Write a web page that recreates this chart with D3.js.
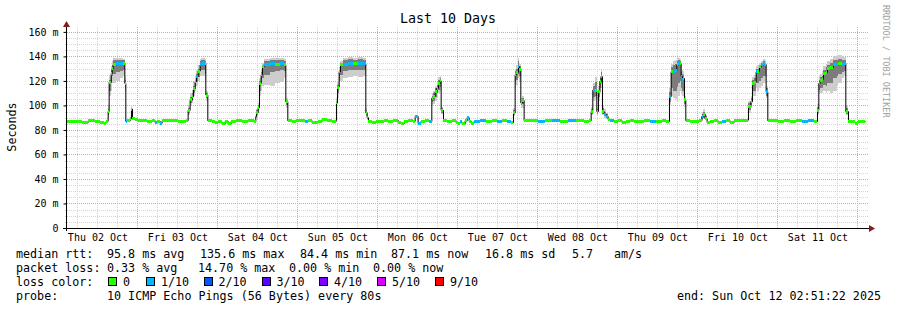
<!DOCTYPE html>
<html>
<head>
<meta charset="utf-8">
<script src="https://cdn.jsdelivr.net/npm/d3@7"></script>
<style>
  body { margin: 0; background: #fff; }
  svg text { font-family: "DejaVu Sans Mono", monospace; white-space: pre; fill: #000; }
</style>
</head>
<body>
<svg id="chart" width="897" height="310"></svg>
<script>
// ---- data (hours since Thu 02 Oct 00:00) ----
const startHour = 2.856;   // Oct 02 02:51:22
const endHour = 242.856;   // Oct 12 02:51:22

const hours = [2.9,5.3,7.4,9.2,11.3,12.8,14.0,14.6,15.2,15.5,16.1,16.4,16.7,17.6,18.8,19.7,20.2,20.5,21.0,21.8,22.2,22.5,23.3,24.2,25.4,26.9,28.4,29.3,29.9,30.8,31.4,33.8,36.2,38.6,
  39.2,39.8,40.4,40.8,41.3,41.7,42.2,42.8,43.1,44.3,44.5,45.1,46.4,47.3,48.2,49.4,50.3,51.2,52.1,53.6,55.4,57.2,59.0,
  59.5,59.7,60.2,60.6,61.1,61.5,62.0,63.8,65.3,66.8,68.0,68.5,69.1,70.4,71.6,72.8,74.3,75.2,76.4,78.2,79.4,80.9,82.4,
  83.6,83.7,84.0,84.5,84.9,85.7,87.2,88.7,90.2,91.7,92.5,92.9,93.3,94.4,95.6,96.8,98.0,99.2,100.7,102.2,103.1,104.0,105.2,106.7,107.3,108.2,109.1,110.3,111.5,
  112.3,112.7,113.3,113.8,114.3,114.8,115.1,115.8,116.9,118.4,119.6,120.2,120.8,121.4,122.3,122.9,123.5,124.1,125.0,126.8,128.6,130.4,131.9,133.4,134.9,136.1,
  136.8,137.3,137.7,138.3,138.6,139.0,139.5,140.0,141.7,144.1,146.2,148.3,150.8,153.1,155.6,158.0,159.5,
  160.1,160.6,161.3,161.8,162.3,162.7,163.1,163.5,164.0,164.6,165.2,165.8,167.0,168.2,169.4,170.6,171.8,173.0,174.2,176.0,177.8,179.6,181.4,182.6,
  183.6,184.1,184.8,185.3,185.8,186.3,186.8,187.1,187.5,187.8,188.1,188.5,189.8,191.3,192.5,193.3,193.7,194.3,194.9,195.8,197.0,198.2,199.4,200.6,201.8,203.0,204.5,206.0,206.9,
  207.3,208.0,208.5,209.1,209.6,210.0,210.6,211.2,211.8,212.3,212.6,213.1,214.4,216.2,218.0,219.8,221.6,223.4,225.2,227.0,
  228.0,228.4,228.8,229.3,229.8,230.6,231.0,231.8,232.8,233.8,234.3,235.3,236.0,236.5,237.3,238.4,239.3,240.2,241.4,242.3];

const medianMs = [86.5,87,86,87.5,87,86,85.5,87,95,119,126,130,133,134.5,134,134.5,118,87,87.5,89,97,89,88.5,87.5,88,87,87.5,86,87,85.5,87.5,87.5,87,87.5,
  96,104.5,107,113.5,119.5,123.5,128,133,134.5,134.5,108.5,87.5,87,86,86.5,85,87,85,87,87.5,87,87.5,87,
  91,94,98,118,125,131.5,133.5,134.5,133.5,134.5,133,103,87.5,87,88,87.5,86.5,87.5,86,87,88.5,87.5,87,
  88,102,115,127.5,133,133.5,134.5,134,134.5,134,94,90,87,86,86.5,87,87.5,87,88,86,85,86.5,87.5,87,91,85.5,87,87.5,87,
  106,107,111,114,118,120,96,87.5,87,87.5,86,85.5,86.5,85,87.5,90,87,85.5,87,87.5,87,87.5,86.5,87.5,87,86,
  94,125,127,131.5,129.5,102,104,87.5,87.5,87,87.5,87.5,87,87.5,87.5,87,87.5,
  95,112.5,112,95,111,119.5,123.5,95,93,91,88.5,87.5,87,87.5,86,87,87.5,86.5,87,87.5,87,86.5,87.5,87,
  107,127.5,127.5,128.5,133,134.5,134,123.5,121,122,104.5,87.5,87,86.5,87.5,91,93,89,86,87,87.5,86,87,87.5,86,87.5,88,87.5,88,
  99,103,118,119,127.5,127.5,131.5,133,134.5,133.5,111,87.5,87.5,87,87.5,87,87.5,86.5,87.5,87,
  96,118,120,121,126,127,130,131,133,133,134.5,133,134.5,95,87,86.5,85.5,87,86.5,87];

// packets lost out of 10 for each step (index into lossColors)
const lossIdx = [0,0,0,0,0,0,0,0,0,0,0,0,0,1,1,0,0,1,0,0,0,0,0,0,0,0,0,1,0,1,0,0,0,0,
  0,0,0,0,0,1,0,1,1,0,0,0,0,0,0,0,0,0,0,0,0,0,0,
  0,0,0,0,0,0,1,1,0,1,0,0,0,0,0,0,1,0,0,0,0,0,0,
  0,0,0,0,0,1,1,0,1,1,0,1,0,0,0,0,0,0,0,0,0,0,0,0,1,1,0,0,1,
  0,0,0,0,0,0,0,0,0,0,0,0,1,0,0,1,0,0,1,1,0,0,1,0,1,0,
  0,0,0,1,0,0,0,0,0,1,0,1,0,1,0,0,0,
  0,1,0,0,0,0,0,0,1,1,0,1,0,0,0,0,0,0,0,0,1,0,0,0,
  1,0,1,1,0,1,0,1,1,0,0,0,0,0,0,1,0,0,0,0,0,0,1,0,0,0,0,0,0,
  0,0,0,0,1,0,0,1,1,0,1,0,0,0,0,0,0,1,1,0,
  0,1,0,0,0,0,0,0,1,1,0,1,1,0,0,0,0,0,0,0];

// smoke (spread of the 10 pings), null marks the end of a burst
const smokeHours = [15.2,15.5,16.1,16.4,16.7,17.6,18.8,19.7,20.2,20.5, 22.2,22.5,
  39.2,39.8,40.4,40.8,41.3,41.7,42.2,42.8,43.1,44.3,44.5,45.1,
  59.5,59.7,60.2,60.6,61.1,61.5,62.0,63.8,65.3,66.8,68.0,68.5,69.1,
  83.6,83.7,84.0,84.5,84.9,85.7,87.2,88.7,90.2,91.7,92.5,92.9,93.3,
  112.3,112.7,113.3,113.8,114.3,114.8,115.1,115.8,
  136.8,137.3,137.7,138.3,138.6,139.0,139.5,140.0,
  160.1,160.6,161.3,161.8,162.3,162.7,163.1,163.5,164.0,164.6,165.2,
  183.6,184.1,184.8,185.3,185.8,186.3,186.8,187.1,187.5,187.8,188.1,188.5,
  193.3,193.7,194.3,194.9,
  207.3,208.0,208.5,209.1,209.6,210.0,210.6,211.2,211.8,212.3,212.6,213.1,
  228.0,228.4,228.8,229.3,229.8,230.6,231.0,231.8,232.8,233.8,234.3,235.3,236.0,236.5,237.3];
const smokeHi = [100,124,132,136,138.5,139,138.5,138,124,null, 100,null,
  100,110,113,119,124,129,133,138,138.5,138,112,null,
  94,97,102,122,130,135,138,139,138.5,139,138,106,null,
  92,106,120,131,136,138.5,139.5,139,139.5,138.5,98,92,null,
  110,112,116,119,123,124,99,null,
  98,130,133,138.5,134,106,108,null,
  99,118,123,99,116,124,130,100,97,94,null,
  114,134,136,137,138.5,139,138,130,129,128,108,null,
  95,97,92,null,
  104,108,123,125,132,133,135,136.5,138,137,116,null,
  101,124,126,128,132,134,136,138,140,140.5,141,140,139.5,100,null];
const smokeLo = [90,108,112,118,118,120,122,124,112,null, 92,null,
  92,100,102,108,112,116,120,124,124,120,104,null,
  88,90,94,108,112,116,117,116,118,119,122,98,null,
  86,96,106,116,120,122,123,124,123,124,91,88,null,
  100,101,104,107,110,112,93,null,
  91,115,117,122,120,98,98,null,
  92,104,105,92,104,110,114,92,90,89,null,
  100,108,106,105,104,108,112,110,108,108,99,null,
  88,89,88,null,
  94,98,108,108,114,112,114,116,118,118,106,null,
  92,110,110,110,112,110,112,110,112,116,118,122,124,92,null];
const coreHi = [97,121,129,133,137,137,137,137,121,null, 98,null,
  98,107,110,116,121,126,130,136,137,136,110,null,
  92,96,100,120,127,133,136,137,137,137,136,104,null,
  90,104,117,129,134,137,137.5,137,137.5,137,96,91,null,
  108,110,114,117,121,122,98,null,
  96,128,130,136,132,104,106,null,
  97,116,119,97,113,122,127,98,95,93,null,
  111,131,133,134,136,137,136,127,126,125,106,null,
  93,95,91,null,
  102,106,121,122,130,130,133,135,136,135,114,null,
  99,121,123,124,129,131,133,135,137,137,138,137,137,98,null];
const coreLo = [92,112,118,124,126,127,128,129,114,null, 94,null,
  94,102,104,110,115,119,123,128,129,126,106,null,
  89,92,96,112,118,122,125,127,128,129,128,100,null,
  87,99,110,120,125,128,129,129,129,129,92,89,null,
  103,104,107,110,113,115,94,null,
  92,119,121,126,124,100,101,null,
  93,107,108,93,107,114,118,93,91,90,null,
  103,114,112,112,115,118,120,114,112,112,101,null,
  89,90,88.5,null,
  96,100,112,112,118,118,120,122,124,124,108,null,
  94,113,114,114,117,116,118,118,122,124,126,127,128,93,null];

const yTicks = [0, 20, 40, 60, 80, 100, 120, 140, 160];
const lossLabels = ['0', '1/10', '2/10', '3/10', '4/10', '5/10', '9/10'];
const lossColors = ['#26ff00', '#00b8ff', '#0059ff', '#5e00ff', '#7e00ff', '#dd00ff', '#ff0000'];
const statRows = [
  ['median rtt:', '95.8 ms avg', '135.6 ms max', '84.4 ms min', '87.1 ms now', '16.8 ms sd', '5.7', 'am/s'],
  ['packet loss:', '0.33 % avg', '14.70 % max', '0.00 % min', '0.00 % now']
];
const probeText = '10 ICMP Echo Pings (56 Bytes) every 80s';
const endText = 'end: Sun Oct 12 02:51:22 2025';

// ---- layout ----
const statX = [[16, 107, 200, 300, 391, 485, 572, 614], [16, 107, 198, 289, 373]];
const lossBoxX = [108, 146, 203.5, 261.5, 319, 377, 435];
const plotLeft = 67, plotRight = 867, plotTop = 27, plotBottom = 228;

const t0 = Date.UTC(2025, 9, 2);
const toDate = h => new Date(t0 + h * 3600e3);

const svg = d3.select('#chart');
svg.append('rect').attr('width', 897).attr('height', 310).attr('fill', '#fff');

const x = d3.scaleUtc().domain([toDate(startHour), toDate(endHour)]).range([plotLeft, plotRight]);
const y = d3.scaleLinear().domain([0, 164]).range([plotBottom, plotTop]);
const px = v => Math.round(v) + 0.5;

// grid
const grid = svg.append('g').attr('shape-rendering', 'crispEdges').attr('stroke-width', 1)
  .attr('stroke-dasharray', '1,1').attr('fill', 'none');

const minorY = d3.range(5, 165, 5).filter(v => v % 20 !== 0);
grid.selectAll('.hmin').data(minorY).join('line')
  .attr('x1', plotLeft - 2).attr('x2', plotRight + 2)
  .attr('y1', d => px(y(d))).attr('y2', d => px(y(d)))
  .attr('stroke', '#d4d4d4');

const hours6 = d3.utcHour.every(6).range(toDate(startHour), toDate(endHour)).filter(d => d.getUTCHours() !== 0);
grid.selectAll('.vmin').data(hours6).join('line')
  .attr('x1', d => px(x(d))).attr('x2', d => px(x(d)))
  .attr('y1', plotBottom).attr('y2', plotTop)
  .attr('stroke', '#d4d4d4');

grid.selectAll('.hmaj').data(yTicks.filter(v => v > 0)).join('line')
  .attr('x1', plotLeft - 2).attr('x2', plotRight + 2)
  .attr('y1', d => px(y(d))).attr('y2', d => px(y(d)))
  .attr('stroke', '#f39a9a');

const days = d3.utcDay.range(toDate(startHour), toDate(endHour));
grid.selectAll('.vmaj').data(days).join('line')
  .attr('x1', d => px(x(d))).attr('x2', d => px(x(d)))
  .attr('y1', plotBottom).attr('y2', plotTop)
  .attr('stroke', '#f39a9a');

// smoke
const smoke = svg.append('g').attr('shape-rendering', 'crispEdges');
const smokeSteps = d3.range(smokeHours.length - 1).filter(i => smokeHi[i] != null);
smoke.selectAll('.outer').data(smokeSteps).join('rect')
  .attr('x', i => x(toDate(smokeHours[i])))
  .attr('width', i => x(toDate(smokeHours[i + 1])) - x(toDate(smokeHours[i])))
  .attr('y', i => y(smokeHi[i]))
  .attr('height', i => y(smokeLo[i]) - y(smokeHi[i]))
  .attr('fill', '#cdcdcd');
smoke.selectAll('.core').data(smokeSteps).join('rect')
  .attr('x', i => x(toDate(smokeHours[i])))
  .attr('width', i => x(toDate(smokeHours[i + 1])) - x(toDate(smokeHours[i])))
  .attr('y', i => y(coreHi[i]))
  .attr('height', i => y(coreLo[i]) - y(coreHi[i]))
  .attr('fill', '#7c7c7c');

// median line
const line = d3.line()
  .x(i => x(toDate(hours[i])))
  .y(i => y(medianMs[i]))
  .curve(d3.curveStepAfter);
svg.append('path')
  .attr('d', line(d3.range(hours.length)))
  .attr('fill', 'none').attr('stroke', '#000').attr('stroke-width', 1);

// loss colored median marks
svg.append('g').attr('shape-rendering', 'crispEdges')
  .selectAll('rect').data(d3.range(hours.length - 1)).join('rect')
  .attr('x', i => x(toDate(hours[i])))
  .attr('width', i => x(toDate(hours[i + 1])) - x(toDate(hours[i])))
  .attr('y', i => y(medianMs[i]) - 1.5)
  .attr('height', 3)
  .attr('fill', i => lossColors[lossIdx[i]]);

// axes
const yAxis = svg.append('g')
  .attr('transform', `translate(${plotLeft - 0.5},0)`)
  .call(d3.axisLeft(y).tickValues(yTicks).tickSize(3).tickPadding(5)
    .tickFormat(d => d === 0 ? '0' : d + ' m'));
yAxis.select('.domain').remove();
yAxis.selectAll('text').style('font-size', '10px').style('font-family', '"DejaVu Sans Mono", monospace');

const noons = d3.utcDay.range(toDate(0), toDate(endHour)).map(d => d3.utcHour.offset(d, 12))
  .filter(d => d < toDate(endHour));
const xAxis = svg.append('g')
  .attr('transform', `translate(0,${plotBottom})`)
  .call(d3.axisBottom(x).tickValues(noons).tickSize(0).tickPadding(6)
    .tickFormat(d3.utcFormat('%a %d %b')));
xAxis.select('.domain').remove();
xAxis.selectAll('text').style('font-size', '10px').style('font-family', '"DejaVu Sans Mono", monospace');

svg.append('line').attr('x1', 63).attr('x2', 870).attr('y1', plotBottom + 0.5).attr('y2', plotBottom + 0.5)
  .attr('stroke', '#000').attr('shape-rendering', 'crispEdges');
svg.append('line').attr('x1', plotLeft - 0.5).attr('x2', plotLeft - 0.5).attr('y1', plotBottom + 3).attr('y2', 24)
  .attr('stroke', '#000').attr('shape-rendering', 'crispEdges');
svg.append('path').attr('d', 'M869,225L875,228.5L869,232Z').attr('fill', '#8b1a1a');
svg.append('path').attr('d', 'M63,27L66.5,21L70,27Z').attr('fill', '#8b1a1a');

// titles
svg.append('text').attr('x', 448).attr('y', 23).attr('text-anchor', 'middle')
  .style('font-size', '13.3px').text('Last 10 Days');
svg.append('text').attr('transform', 'translate(15.5,127) rotate(-90)').attr('text-anchor', 'middle')
  .style('font-size', '11.7px').text('Seconds');
svg.append('text').attr('transform', 'translate(883,5) rotate(90)')
  .style('font-size', '8.5px').style('fill', '#a0a0a0').text('RRDTOOL / TOBI OETIKER');

// legend
const legend = svg.append('g').style('font-size', '11.7px');
statRows.forEach((row, r) => {
  row.forEach((s, k) => {
    legend.append('text').attr('x', statX[r][k]).attr('y', 257.7 + r * 14.3).text(s);
  });
});
legend.append('text').attr('x', 16).attr('y', 286).text('loss color:');
lossLabels.forEach((s, k) => {
  legend.append('rect').attr('x', lossBoxX[k] + 0.5).attr('y', 277.5).attr('width', 8).attr('height', 8)
    .attr('fill', lossColors[k]).attr('stroke', '#000').attr('shape-rendering', 'crispEdges');
  legend.append('text').attr('x', lossBoxX[k] + 15).attr('y', 286).text(s);
});
legend.append('text').attr('x', 16).attr('y', 300.3).text('probe:');
legend.append('text').attr('x', 107).attr('y', 300.3).text(probeText);
legend.append('text').attr('x', 881).attr('y', 300.3).attr('text-anchor', 'end').text(endText);
</script>
</body>
</html>
